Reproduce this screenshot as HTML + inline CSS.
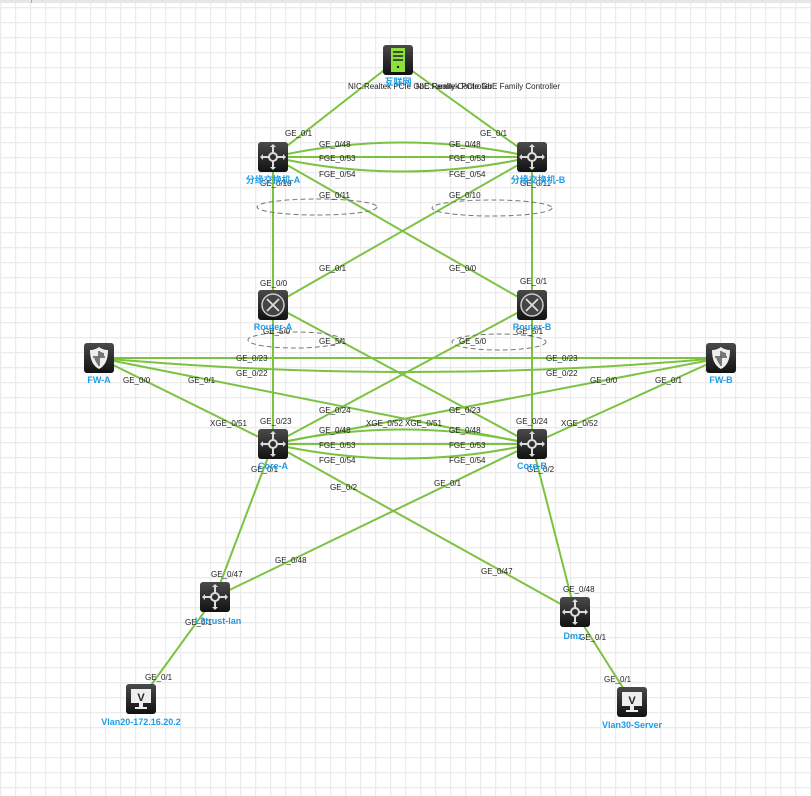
<!DOCTYPE html>
<html><head><meta charset="utf-8"><style>
html,body{margin:0;padding:0;background:#fff;}
svg{display:block}
text{font-family:"Liberation Sans","Noto Sans CJK SC",sans-serif;}
.l{font-size:8px;fill:#222;}
.n{font-size:9px;fill:#1e9be8;font-weight:bold;text-anchor:middle;}
</style></head><body>
<svg width="811" height="796" xmlns="http://www.w3.org/2000/svg">
<defs>
<pattern id="g" width="15" height="15" patternUnits="userSpaceOnUse" x="0" y="7">
<path d="M0 0.5H15M0.5 0V15" stroke="#ebebeb" stroke-width="1.5" fill="none"/>
</pattern>
<linearGradient id="k" x1="0" y1="0" x2="0" y2="1"><stop offset="0" stop-color="#4a4a4a"/><stop offset="1" stop-color="#111"/></linearGradient>
<g id="sw"><rect x="-15" y="-15" width="30" height="30" rx="3" fill="url(#k)"/>
<g stroke="#ddd" stroke-width="2" fill="none"><circle r="4"/><path d="M0-4V-11M0 4V11M-4 0H-11M4 0H11"/></g>
<g fill="#ddd"><path d="M0-13l-3 3h6zM0 13l-3-3h6zM-13 0l3-3v6zM13 0l-3-3v6z"/></g></g>
<g id="rt"><rect x="-15" y="-15" width="30" height="30" rx="3" fill="url(#k)"/>
<circle r="11" stroke="#ccc" stroke-width="1.5" fill="#444"/>
<g stroke="#ddd" stroke-width="1.8"><path d="M-6-6L6 6M6-6L-6 6"/></g></g>
<g id="fw"><rect x="-15" y="-15" width="30" height="30" rx="3" fill="url(#k)"/>
<path d="M0-11C4-8 8-8 9-8C9 2 6 8 0 11C-6 8-9 2-9-8C-8-8-4-8 0-11Z" fill="#eee"/>
<path d="M0-7V8M-6-1H6" stroke="#555" stroke-width="1.5"/><path d="M0-7C2-6 4-5 5-5V-1H0ZM0-1H-5C-4 3-2 6 0 8Z" fill="#777"/></g>
<g id="pc"><rect x="-15" y="-15" width="30" height="30" rx="3" fill="url(#k)"/>
<rect x="-10" y="-10" width="20" height="14" fill="#eee"/><text x="0" y="2" font-size="11" font-weight="bold" text-anchor="middle" fill="#222" font-family="Liberation Sans">V</text>
<path d="M-2 4v4h-4v2h12v-2h-4v-4z" fill="#eee"/></g>
</defs>
<rect width="811" height="796" fill="url(#g)"/>
<rect x="0" y="0" width="811" height="3" fill="#e6e6e6"/><rect x="31" y="0" width="1" height="3" fill="#aaa"/>
<g stroke="#7cc242" stroke-width="2" fill="none">
<path d="M397 60L273 157M397 60L532 157"/>
<path d="M273 157Q402 128 532 157M273 157L532 157M273 157Q402 186 532 157"/>
<path d="M273 157V305M273 157L532 305M532 157L273 305M532 157V305"/>
<path d="M273 305V444M273 305L532 444M532 305L273 444M532 305V444"/>
<path d="M99 358L721 358M99 358Q410 386 721 358"/>
<path d="M99 358L273 444M99 358L532 444M721 358L273 444M721 358L532 444"/>
<path d="M273 444Q402 415 532 444M273 444L532 444M273 444Q402 473 532 444"/>
<path d="M273 444L215 597M273 444L575 612M532 444L215 597M532 444L575 612"/>
<path d="M215 597L141 699M575 612L632 702"/>
</g>
<g stroke="#777" stroke-dasharray="5,3" fill="none" stroke-width="1">
<ellipse cx="317" cy="207" rx="60" ry="8"/><ellipse cx="492" cy="208" rx="60" ry="8"/>
<ellipse cx="295" cy="340" rx="47" ry="8"/><ellipse cx="499" cy="342" rx="47" ry="8"/>
</g>
<g transform="translate(398,60)"><rect x="-15" y="-15" width="30" height="30" rx="3" fill="url(#k)"/>
<rect x="-7" y="-12" width="14" height="24" fill="#8ee03a"/><path d="M-5-8H5M-5-4H5M-5 0H5" stroke="#222" stroke-width="1.5"/><circle cx="0" cy="7" r="1.2" fill="#222"/></g>
<use href="#sw" x="273" y="157"/><use href="#sw" x="532" y="157"/>
<use href="#rt" x="273" y="305"/><use href="#rt" x="532" y="305"/>
<use href="#fw" x="99" y="358"/><use href="#fw" x="721" y="358"/>
<use href="#sw" x="273" y="444"/><use href="#sw" x="532" y="444"/>
<use href="#sw" x="215" y="597"/><use href="#sw" x="575" y="612"/>
<use href="#pc" x="141" y="699"/><use href="#pc" x="632" y="702"/>
<g class="l">
<text x="348" y="89">NIC:Realtek PCIe GbE Family Controller</text>
<text x="416" y="89">NIC:Realtek PCIe GbE Family Controller</text>
<text x="285" y="136">GE_0/1</text><text x="480" y="136">GE_0/1</text>
<text x="319" y="147">GE_0/48</text><text x="449" y="147">GE_0/48</text>
<text x="319" y="161">FGE_0/53</text><text x="449" y="161">FGE_0/53</text>
<text x="319" y="177">FGE_0/54</text><text x="449" y="177">FGE_0/54</text>
<text x="260" y="186">GE_0/10</text><text x="520" y="186">GE_0/11</text>
<text x="319" y="198">GE_0/11</text><text x="449" y="198">GE_0/10</text>
<text x="319" y="271">GE_0/1</text><text x="449" y="271">GE_0/0</text>
<text x="260" y="286">GE_0/0</text><text x="520" y="284">GE_0/1</text>
<text x="263" y="334">GE_5/0</text><text x="516" y="334">GE_5/1</text>
<text x="319" y="344">GE_5/1</text><text x="459" y="344">GE_5/0</text>
<text x="236" y="361">GE_0/23</text><text x="546" y="361">GE_0/23</text>
<text x="236" y="376">GE_0/22</text><text x="546" y="376">GE_0/22</text>
<text x="123" y="383">GE_0/0</text><text x="188" y="383">GE_0/1</text>
<text x="590" y="383">GE_0/0</text><text x="655" y="383">GE_0/1</text>
<text x="319" y="413">GE_0/24</text><text x="449" y="413">GE_0/23</text>
<text x="210" y="426">XGE_0/51</text><text x="260" y="424">GE_0/23</text>
<text x="366" y="426">XGE_0/52</text><text x="405" y="426">XGE_0/51</text>
<text x="516" y="424">GE_0/24</text><text x="561" y="426">XGE_0/52</text>
<text x="319" y="433">GE_0/48</text><text x="449" y="433">GE_0/48</text>
<text x="319" y="448">FGE_0/53</text><text x="449" y="448">FGE_0/53</text>
<text x="319" y="463">FGE_0/54</text><text x="449" y="463">FGE_0/54</text>
<text x="251" y="472">GE_0/1</text><text x="527" y="472">GE_0/2</text>
<text x="330" y="490">GE_0/2</text><text x="434" y="486">GE_0/1</text>
<text x="275" y="563">GE_0/48</text><text x="481" y="574">GE_0/47</text>
<text x="211" y="577">GE_0/47</text><text x="563" y="592">GE_0/48</text>
<text x="185" y="625">GE_0/1</text><text x="579" y="640">GE_0/1</text>
<text x="145" y="680">GE_0/1</text><text x="604" y="682">GE_0/1</text>
</g>
<g class="n">
<text x="398" y="85">互联网</text>
<text x="273" y="183">分缘交换机-A</text><text x="538" y="183">分缘交换机-B</text>
<text x="273" y="330">Router-A</text><text x="532" y="330">Router-B</text>
<text x="99" y="383">FW-A</text><text x="721" y="383">FW-B</text>
<text x="273" y="469">Core-A</text><text x="532" y="469">Core-B</text>
<text x="218" y="624">L2trust-lan</text><text x="573" y="639">Dmz</text>
<text x="141" y="725">Vlan20-172.16.20.2</text><text x="632" y="728">Vlan30-Server</text>
</g>
</svg>
</body></html>
